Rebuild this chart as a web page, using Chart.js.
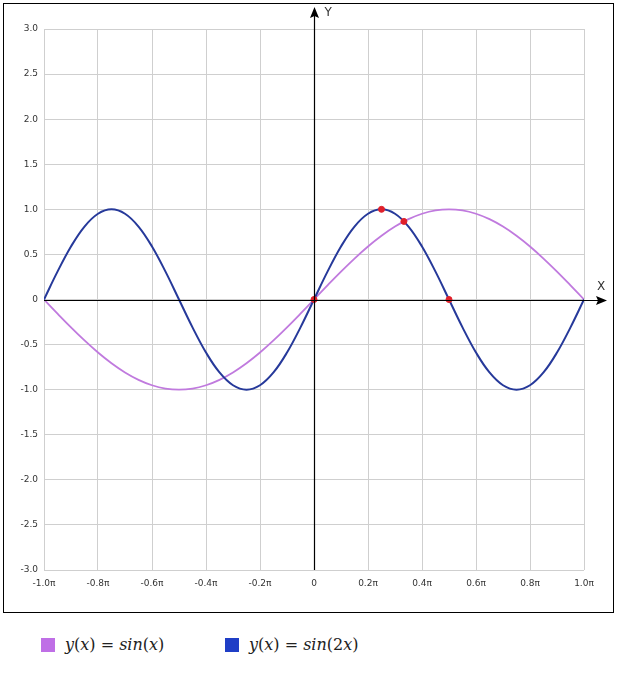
<!DOCTYPE html>
<html>
<head>
<meta charset="utf-8">
<script src="https://cdn.jsdelivr.net/npm/chart.js@4.4.1/dist/chart.umd.min.js"></script>
<style>
  body { margin: 0; background: #fff; width: 644px; height: 684px; position: relative; overflow: hidden; }
  .box { position: absolute; left: 3px; top: 3px; width: 609px; height: 608px; border: 1px solid #000; }
  #wrap { position: absolute; left: 0; top: 0; width: 616px; height: 600px; }
  .legend { position: absolute; top: 635px; left: 0; font-family: "DejaVu Serif", serif; font-size: 16px; color: #222; }
  .sq { position: absolute; top: 3px; width: 14px; height: 14px; }
  .txt { position: absolute; top: 0; white-space: nowrap; }
  .txt i { font-style: italic; }
</style>
</head>
<body>
<div class="box"></div>
<div id="wrap"><canvas id="myChart" width="616" height="600"></canvas></div>
<div class="legend">
  <div class="sq" style="left:41px;background:#bf6fe6"></div>
  <div class="txt" style="left:65px"><i>y</i>(<i>x</i>) = <i>sin</i>(<i>x</i>)</div>
  <div class="sq" style="left:225px;background:#1f3ec6"></div>
  <div class="txt" style="left:249px"><i>y</i>(<i>x</i>) = <i>sin</i>(2<i>x</i>)</div>
</div>
<script>
// x in units of pi
const xs = [-1, -0.95, -0.9, -0.85, -0.8, -0.75, -0.7, -0.65, -0.6, -0.55, -0.5,
  -0.45, -0.4, -0.35, -0.3, -0.25, -0.2, -0.15, -0.1, -0.05, 0,
  0.05, 0.1, 0.15, 0.2, 0.25, 0.3, 0.35, 0.4, 0.45, 0.5,
  0.55, 0.6, 0.65, 0.7, 0.75, 0.8, 0.85, 0.9, 0.95, 1]
const sinX = [0, -0.156, -0.309, -0.454, -0.588, -0.707, -0.809, -0.891, -0.951, -0.988, -1,
  -0.988, -0.951, -0.891, -0.809, -0.707, -0.588, -0.454, -0.309, -0.156, 0,
  0.156, 0.309, 0.454, 0.588, 0.707, 0.809, 0.891, 0.951, 0.988, 1,
  0.988, 0.951, 0.891, 0.809, 0.707, 0.588, 0.454, 0.309, 0.156, 0]
const sin2X = [0, 0.309, 0.588, 0.809, 0.951, 1, 0.951, 0.809, 0.588, 0.309, 0,
  -0.309, -0.588, -0.809, -0.951, -1, -0.951, -0.809, -0.588, -0.309, 0,
  0.309, 0.588, 0.809, 0.951, 1, 0.951, 0.809, 0.588, 0.309, 0,
  -0.309, -0.588, -0.809, -0.951, -1, -0.951, -0.809, -0.588, -0.309, 0]
const markX = [0, 0.25, 0.333, 0.5]
const markY = [0, 1, 0.866, 0]

let toPoints = (xv, yv) => xv.map((x, i) => ({ x: x, y: yv[i] }))

// black axes through the origin with arrow heads
const axesPlugin = {
  id: 'axesThroughOrigin',
  afterDatasetsDraw(chart) {
    const { ctx, chartArea, scales } = chart
    const x0 = Math.round(scales.x.getPixelForValue(0)) + 0.5
    const y0 = Math.round(scales.y.getPixelForValue(0)) + 0.5
    ctx.save()
    ctx.strokeStyle = '#000'
    ctx.fillStyle = '#000'
    ctx.lineWidth = 1.2
    ctx.beginPath()
    ctx.moveTo(chartArea.left, y0)
    ctx.lineTo(chartArea.right + 16, y0)
    ctx.moveTo(x0, chartArea.bottom)
    ctx.lineTo(x0, 14)
    ctx.stroke()
    // x arrow
    ctx.beginPath()
    ctx.moveTo(chartArea.right + 23, y0)
    ctx.lineTo(chartArea.right + 12, y0 - 4.5)
    ctx.lineTo(chartArea.right + 14, y0)
    ctx.lineTo(chartArea.right + 12, y0 + 4.5)
    ctx.closePath()
    ctx.fill()
    // y arrow
    ctx.beginPath()
    ctx.moveTo(x0, 7)
    ctx.lineTo(x0 - 4.5, 18)
    ctx.lineTo(x0, 16)
    ctx.lineTo(x0 + 4.5, 18)
    ctx.closePath()
    ctx.fill()
    ctx.font = '12px "DejaVu Sans"'
    ctx.fillStyle = '#333'
    ctx.textBaseline = 'middle'
    ctx.fillText('Y', x0 + 10, 13)
    ctx.fillText('X', chartArea.right + 13, y0 - 14)
    ctx.restore()
  }
}

let createChart = () => {
  const ctx = document.getElementById('myChart')
  new Chart(ctx, {
    type: 'line',
    data: {
      datasets: [
        {
          label: 'marks',
          data: toPoints(markX, markY),
          showLine: false,
          pointRadius: 3,
          pointBackgroundColor: '#e0202a',
          pointBorderColor: '#e0202a',
          order: 0
        },
        {
          label: 'y(x) = sin(2x)',
          data: toPoints(xs, sin2X),
          borderColor: '#26399a',
          borderWidth: 2,
          pointRadius: 0,
          tension: 0.4,
          order: 1
        },
        {
          label: 'y(x) = sin(x)',
          data: toPoints(xs, sinX),
          borderColor: '#c07ade',
          borderWidth: 1.8,
          pointRadius: 0,
          tension: 0.4,
          order: 2
        }
      ]
    },
    options: {
      responsive: false,
      animation: false,
      layout: { padding: { top: 29, right: 32, left: 0, bottom: 0 } },
      plugins: { legend: { display: false }, tooltip: { enabled: false } },
      scales: {
        x: {
          type: 'linear',
          min: -1,
          max: 1,
          afterFit: scale => { scale.height = 30 },
          afterBuildTicks: scale => {
            scale.ticks = [-1, -0.8, -0.6, -0.4, -0.2, 0, 0.2, 0.4, 0.6, 0.8, 1].map(v => ({ value: v }))
          },
          grid: { color: '#cfcfcf', drawTicks: false },
          border: { display: false },
          ticks: {
            padding: 8,
            maxRotation: 0,
            autoSkip: false,
            color: '#333',
            font: { family: 'DejaVu Sans', size: 9 },
            callback: v => Math.abs(v) < 1e-9 ? '0' : v.toFixed(1) + 'π'
          }
        },
        y: {
          min: -3,
          max: 3,
          afterFit: scale => { scale.width = 44 },
          grid: { color: '#cfcfcf', drawTicks: false },
          border: { display: false },
          ticks: {
            stepSize: 0.5,
            padding: 6,
            color: '#333',
            font: { family: 'DejaVu Sans', size: 9 },
            callback: v => Math.abs(v) < 1e-9 ? '0' : v.toFixed(1)
          }
        }
      }
    },
    plugins: [axesPlugin]
  })
}

createChart()
</script>
</body>
</html>
